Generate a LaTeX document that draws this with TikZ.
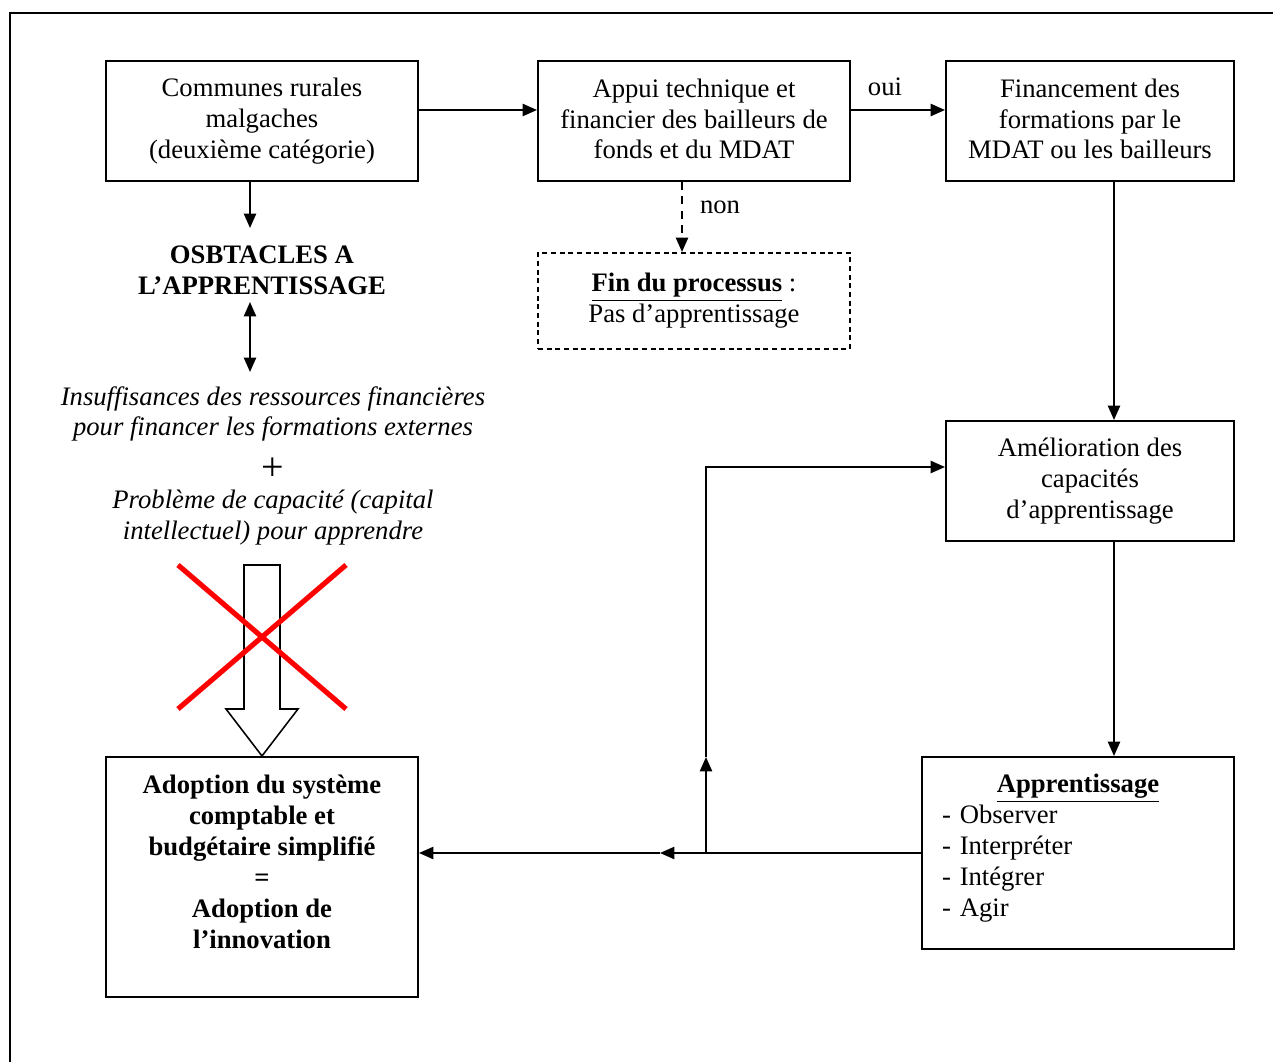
\documentclass[tikz,border=0pt]{standalone}
\usepackage{fontspec}
\setmainfont{Liberation Serif}
\usetikzlibrary{arrows.meta,calc}
\AtBeginDocument{\fontsize{12}{13.9}\selectfont}
\newcommand\PX{0.45pt}
\newcommand\dpfix{\rule[-2pt]{0pt}{2pt}}
\begin{document}
\begin{tikzpicture}[x=0.45pt,y=-0.45pt,
  box/.style={draw,line width=0.9pt,align=center,inner sep=0pt},
  dbox/.style={box,dash pattern=on 2.2pt off 1.7pt},
  conn/.style={line width=0.9pt,-{Triangle[length=6.5pt,width=5.5pt]}},
  dconn/.style={conn,dash pattern=on 3.5pt off 3pt},
  plain/.style={line width=0.9pt},
  txt/.style={align=center,inner sep=0pt}
]
\useasboundingbox (0,0) rectangle (1273,1062);
\draw[plain] (10,13) rectangle (1320,1100);

% boxes
\node[box,minimum width={312*\PX},minimum height={120*\PX}] (A) at (262,121)
  {Communes rurales\\malgaches\\(deuxième catégorie)};
\node[box,minimum width={312*\PX},minimum height={120*\PX}] (B) at (694,121)
  {Appui technique et\\financier des bailleurs de\\fonds et du MDAT\dpfix};
\node[box,minimum width={288*\PX},minimum height={120*\PX}] (C) at (1090,121)
  {Financement des\\formations par le\\MDAT ou les bailleurs\dpfix};
\node[dbox,minimum width={312*\PX},minimum height={96*\PX}] (D) at (694,301)
  {\textbf{\underline{Fin du processus}} :\\Pas d’apprentissage};
\node[box,minimum width={288*\PX},minimum height={120*\PX}] (F) at (1090,481)
  {Amélioration des\\capacités\\d’apprentissage};
\node[box,font=\bfseries,minimum width={312*\PX},minimum height={240*\PX}] (E) at (262,877)
  {Adoption du système\\comptable et\\budgétaire simplifié\\=\\Adoption de\\l’innovation\\\mbox{}};
\node[draw,line width=0.9pt,inner xsep={20*\PX},inner ysep=0pt,text width={272*\PX},
  minimum height={192*\PX}] (G) at (1078,853)
  {{\centering\textbf{\underline{Apprentissage}}\par}\raggedright
   - Observer\\- Interpréter\\- Intégrer\\- Agir\par\kern4.5pt};

% texts
\node[txt,font=\bfseries] (O) at (262,270) {OSBTACLES A\\L’APPRENTISSAGE};
\node[txt,font=\itshape] (I) at (273,414)
  {Insuffisances des ressources financières\\pour financer les formations externes};
\node[txt,font=\fontsize{18}{20}\selectfont] (P) at (273,469) {+};
\node[txt,font=\itshape] (Q) at (273,518)
  {Problème de capacité (capital\\intellectuel) pour apprendre};
\node[txt] (oui) at (885,87) {oui};
\node[txt] (non) at (720,207) {non};

% helper coordinates
\coordinate (r1) at (0,110);
\coordinate (c1) at (250,0);
\coordinate (c2) at (682,0);
\coordinate (c3) at (1114,0);
\coordinate (t1) at (250,228);
\coordinate (d1) at (250,302);
\coordinate (d2) at (250,372);
\coordinate (j) at (706,853);
\coordinate (m) at (660,853);
\coordinate (v) at (706,757);
\coordinate (k) at (706,467);

% connectors
\draw[conn] (A.east |- r1) -- (B.west |- r1);
\draw[conn] (B.east |- r1) -- (C.west |- r1);
\draw[dconn] (B.south -| c2) -- (D.north -| c2);
\draw[conn] (A.south -| c1) -- (t1);
\draw[conn,{Triangle[length=6.5pt,width=5.5pt]}-{Triangle[length=6.5pt,width=5.5pt]}] (d1) -- (d2);
\draw[conn] (C.south -| c3) -- (F.north -| c3);
\draw[conn] (F.south -| c3) -- (G.north -| c3);
\draw[plain] (G.west) -- (j);
\draw[conn] (j) -- (m);
\draw[conn] (m) -- (E.east |- j);
\draw[conn] (j) -- (v);
\draw[conn] (v) -- (k) -- (k -| F.west);

% hollow arrow and red cross
\draw[line width=0.7pt] (244,565) -- (280,565) -- (280,709) -- (298,709) -- (E.north)
  -- (226,709) -- (244,709) -- cycle;
\draw[red,line width=2.3pt] (178,565) -- (346,709) (346,565) -- (178,709);
\end{tikzpicture}
\end{document}
